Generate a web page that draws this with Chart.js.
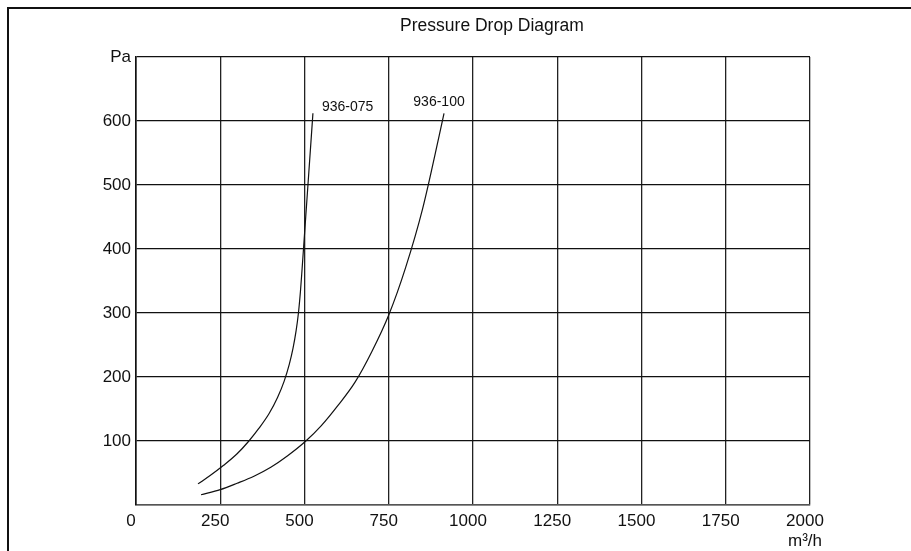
<!DOCTYPE html>
<html>
<head>
<meta charset="utf-8">
<script src="https://cdn.jsdelivr.net/npm/chart.js@4/dist/chart.umd.min.js"></script>
<style>
  html, body { margin: 0; padding: 0; background: #fff; overflow: hidden; }
  #wrap { position: relative; width: 911px; height: 551px; }
  #frame { position: absolute; left: 7px; top: 7px; width: 1000px; height: 1000px;
           border-left: 2px solid #111; border-top: 2px solid #111; }
  canvas { position: absolute; left: 0; top: 0; }
</style>
</head>
<body>
<div id="wrap">
  <div id="frame"></div>
  <canvas id="c" width="911" height="551"></canvas>
</div>
<script>
// ---- data ----
const chartTitle = 'Pressure Drop Diagram';
const xUnit = 'm³/h';
const yUnit = 'Pa';
const seriesNames = ['936-075', '936-100'];

const flow075 = [184, 220, 260, 300, 335, 365, 395, 420, 440, 455, 466, 475, 482, 488, 493, 499, 506, 513, 520, 525];
const pa075   = [33,  46,  62,  80,  100, 120, 143, 168, 194, 220, 245, 272, 300, 334, 370, 415, 468, 521, 574, 612];

const flow100 = [193, 250, 300, 350, 400, 450, 504, 550, 600, 650, 700, 750, 800, 850, 900, 914];
const pa100   = [16,  24,  34,  45,  59,  77,  100, 124, 156, 192, 240, 297, 371, 462, 578, 612];

const xTicks = [0, 250, 500, 750, 1000, 1250, 1500, 1750, 2000];
const yTicks = [0, 100, 200, 300, 400, 500, 600, 700];

// ---- build ----
function pts(xs, ys) { return xs.map((x, i) => ({ x: x, y: ys[i] })); }

const FONT = '"Liberation Sans", Arial, sans-serif';

const titlePlugin = {
  id: 'fixedTitle',
  afterDraw(chart) {
    const ctx = chart.ctx;
    ctx.save();
    ctx.font = '17.5px ' + FONT;
    ctx.fillStyle = '#111';
    ctx.textAlign = 'center';
    ctx.textBaseline = 'middle';
    ctx.fillText(chartTitle, 492, 26);
    ctx.restore();
  }
};

const curveLabels = {
  id: 'curveLabels',
  afterDatasetsDraw(chart) {
    const ctx = chart.ctx;
    ctx.save();
    ctx.font = '14px ' + FONT;
    ctx.fillStyle = '#111';
    ctx.textBaseline = 'middle';
    chart.data.datasets.forEach((ds, i) => {
      const meta = chart.getDatasetMeta(i);
      const p = meta.data[meta.data.length - 1];
      if (i === 0) {
        ctx.textAlign = 'left';
        ctx.fillText(ds.label, p.x + 9, p.y - 6);
      } else {
        ctx.textAlign = 'center';
        ctx.fillText(ds.label, p.x - 5, p.y - 11);
      }
    });
    ctx.restore();
  }
};

new Chart(document.getElementById('c'), {
  type: 'line',
  data: {
    datasets: [
      { label: seriesNames[0], data: pts(flow075, pa075) },
      { label: seriesNames[1], data: pts(flow100, pa100) }
    ]
  },
  options: {
    responsive: false,
    animation: false,
    layout: { padding: { left: 0, right: 101, top: 57, bottom: 0 } },
    elements: {
      line: { borderColor: '#111', borderWidth: 1.2, cubicInterpolationMode: 'monotone', fill: false },
      point: { radius: 0 }
    },
    plugins: {
      legend: { display: false },
      title: { display: false },
      tooltip: { enabled: false }
    },
    scales: {
      x: {
        type: 'linear',
        min: xTicks[0],
        max: xTicks[xTicks.length - 1],
        afterBuildTicks(scale) { scale.ticks = xTicks.map(v => ({ value: v })); },
        afterFit(scale) { scale.height = 46; },
        grid: { color: '#222', lineWidth: 1.3, drawTicks: false },
        border: { color: '#555', width: 1.6 },
        ticks: {
          color: '#111',
          font: { family: FONT, size: 17 },
          padding: 6,
          labelOffset: -5,
          maxRotation: 0,
          autoSkip: false,
          callback(v) { return v === xTicks[xTicks.length - 1] ? [String(v), xUnit] : String(v); }
        }
      },
      y: {
        type: 'linear',
        min: yTicks[0],
        max: yTicks[yTicks.length - 1],
        afterBuildTicks(scale) { scale.ticks = yTicks.map(v => ({ value: v })); },
        afterFit(scale) { scale.width = 136; },
        grid: { color: '#111', lineWidth: 1.2, drawTicks: false },
        border: { color: '#111', width: 1.6 },
        ticks: {
          color: '#111',
          font: { family: FONT, size: 17 },
          padding: 5,
          autoSkip: false,
          callback(v) {
            if (v === yTicks[0]) return '';
            if (v === yTicks[yTicks.length - 1]) return yUnit;
            return String(v);
          }
        }
      }
    }
  },
  plugins: [titlePlugin, curveLabels]
});
</script>
</body>
</html>
